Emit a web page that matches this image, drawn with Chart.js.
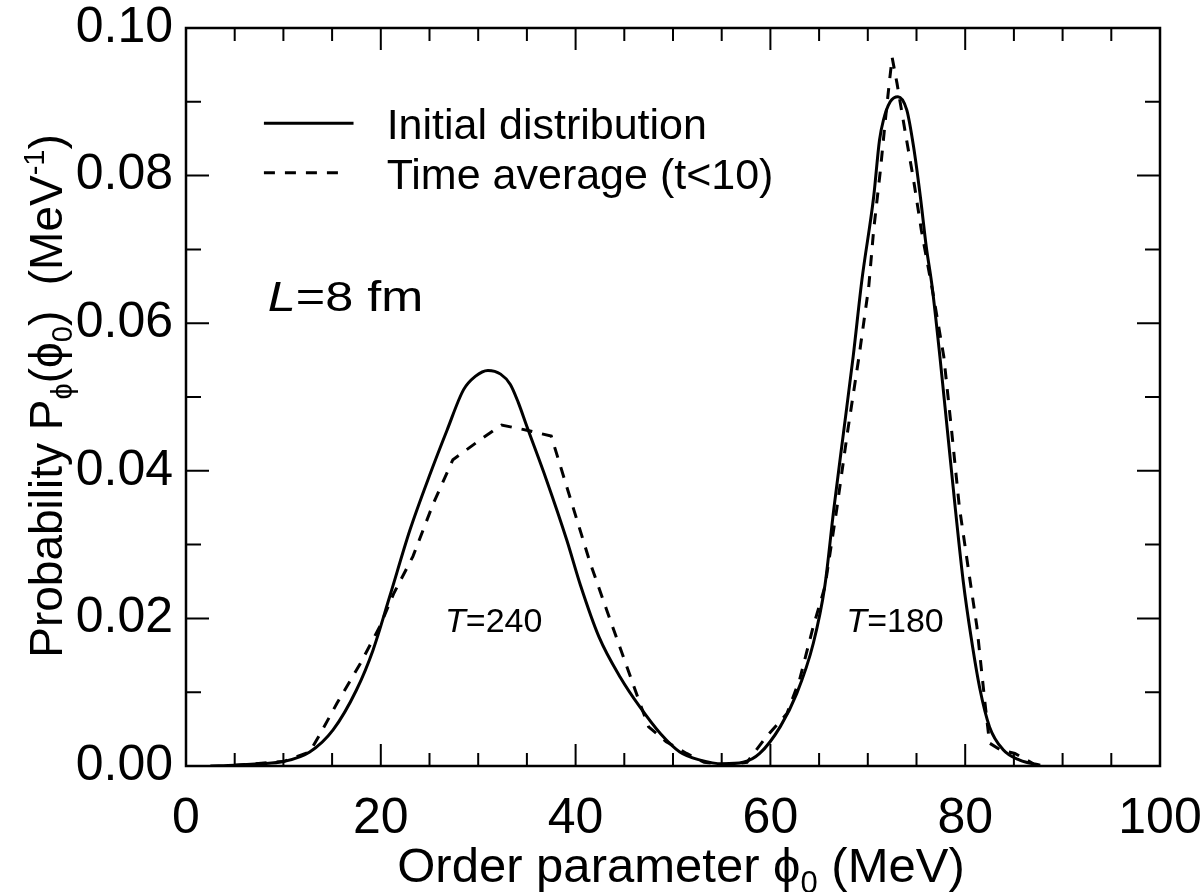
<!DOCTYPE html>
<html>
<head>
<meta charset="utf-8">
<script src="https://cdn.jsdelivr.net/npm/chart.js@4.4.1/dist/chart.umd.min.js"></script>
<style>
  html, body { margin: 0; padding: 0; background: #fff; }
</style>
</head>
<body>
<canvas id="chart" width="1204" height="892"></canvas>
<script>
// ==================== DATA ====================
// initial distribution (solid)
const phiInitial = [2.5, 5, 7.5, 10, 12.7, 15.1, 17.5, 19.2, 20.9, 23.0, 25.1, 26.8, 28.5, 29.7, 31.0,
  32.3, 33.3, 34.1, 35.0, 37.0, 39.1, 40.5, 42.4, 44.6, 46.6, 48.7, 50.7, 52.8, 55.1, 57.2, 58.9,
  61.0, 62.7, 64.4, 65.6, 66.5, 67.5, 68.5, 69.4, 70.6, 71.2, 71.6, 72.3, 73.1, 74.0, 74.7,
  75.4, 76.0, 76.6, 77.4, 78.2, 79.0, 79.8, 80.6, 81.5, 82.5, 83.9, 85.6, 87.7];
const probInitial = [0.0000, 0.0001, 0.0003, 0.0006, 0.0019, 0.0049, 0.0103, 0.0157, 0.0229, 0.0320, 0.0397, 0.0455, 0.0510, 0.0528, 0.0536,
  0.0531, 0.0517, 0.0493, 0.0460, 0.0388, 0.0306, 0.0245, 0.0175, 0.0120, 0.0080, 0.0044, 0.0019, 0.0008, 0.0003, 0.0005, 0.0017,
  0.0053, 0.0098, 0.0166, 0.0245, 0.0347, 0.0451, 0.0555, 0.0659, 0.0771, 0.0848, 0.0875, 0.0900, 0.0907, 0.0889, 0.0839,
  0.0771, 0.0704, 0.0650, 0.0555, 0.0451, 0.0347, 0.0250, 0.0175, 0.0105, 0.0053, 0.0022, 0.0008, 0.0001];

// time average t<10 (dashed)
const phiAverage = [5, 10, 12.7, 13.8, 15.5, 17.9, 19.9, 21.3, 23.3, 25.4, 27.4, 30.2, 32.4, 35.0, 37.5,
  39.1, 41.5, 43.2, 44.9, 46.6, 47.5, 49.3, 51.4, 53.2, 55.5, 57.6, 59.6, 61.7, 63.0, 64.4,
  65.6, 66.8, 67.9, 69.1, 70.1, 70.6, 71.3, 71.8, 72.2, 72.5, 73.0, 73.8, 74.7, 75.5, 76.0,
  76.7, 77.8, 78.6, 79.4, 80.4, 81.2, 82.0, 82.5, 83.6, 85.1, 87.0];
const probAverage = [0.0001, 0.0006, 0.0019, 0.0044, 0.0085, 0.0139, 0.0189, 0.0233, 0.0284, 0.0356, 0.0415, 0.0442, 0.0462, 0.0455, 0.0447,
  0.0378, 0.0275, 0.0211, 0.0148, 0.0085, 0.0053, 0.0033, 0.0017, 0.0005, 0.0002, 0.0005, 0.0040, 0.0071, 0.0117, 0.0189,
  0.0243, 0.0347, 0.0451, 0.0555, 0.0650, 0.0726, 0.0808, 0.0875, 0.0925, 0.0960, 0.0925, 0.0862, 0.0794, 0.0726, 0.0690,
  0.0640, 0.0555, 0.0455, 0.0351, 0.0260, 0.0189, 0.0089, 0.0031, 0.0022, 0.0017, 0.0003];

const xTickValues = [0, 20, 40, 60, 80, 100];
const yTickValues = [0, 0.02, 0.04, 0.06, 0.08, 0.10];
const xMinorStep = 5;
const yMinorStep = 0.01;

const seriesLabels = ["Initial distribution", "Time average (t<10)"];

// ==================== HELPERS ====================
const FONT = '"Liberation Sans", Arial, Helvetica, sans-serif';
const PHI = "\u03D5";

const toPoints = (xs, ys) => xs.map((x, i) => ({ x: x, y: ys[i] }));

// draw text made of pieces, some of them sub/superscript
function drawRich(ctx, segs, x, y, size, align, hScale) {
  const sx = hScale || 1;
  const fontFor = s => (s.italic ? "italic " : "") + Math.round(s.sub || s.sup ? size * 0.64 : size) + "px " + FONT;
  let total = 0;
  segs.forEach(s => { ctx.font = fontFor(s); s.w = ctx.measureText(s.t).width; total += s.w; });
  ctx.save();
  ctx.translate(x, y);
  ctx.scale(sx, 1);
  let cx = align === "center" ? -total / 2 : 0;
  ctx.textAlign = "left";
  ctx.textBaseline = "alphabetic";
  segs.forEach(s => {
    ctx.font = fontFor(s);
    let dy = 0;
    if (s.sub) dy = size * 0.22;
    if (s.sup) dy = -size * 0.4;
    ctx.fillText(s.t, cx, dy);
    cx += s.w;
  });
  ctx.restore();
}

// ==================== FRAME / TICKS / TEXT ====================
const decorPlugin = {
  id: "decor",
  afterDatasetsDraw(chart) {
    const { ctx, chartArea: a, scales: { x, y } } = chart;
    ctx.save();
    ctx.strokeStyle = "#000";
    ctx.fillStyle = "#000";

    // inward ticks on all four sides
    ctx.lineWidth = 2;
    ctx.beginPath();
    for (let v = x.min; v <= x.max + 1e-9; v += xMinorStep) {
      const px = x.getPixelForValue(v);
      const len = xTickValues.includes(v) ? 22 : 13;
      ctx.moveTo(px, a.bottom); ctx.lineTo(px, a.bottom - len);
      ctx.moveTo(px, a.top); ctx.lineTo(px, a.top + len);
    }
    for (let i = 0; i <= Math.round((y.max - y.min) / yMinorStep); i++) {
      const py = y.getPixelForValue(y.min + i * yMinorStep);
      const len = i % 2 === 0 ? 23 : 15;
      ctx.moveTo(a.left, py); ctx.lineTo(a.left + len, py);
      ctx.moveTo(a.right, py); ctx.lineTo(a.right - len, py);
    }
    ctx.stroke();

    // frame
    ctx.lineWidth = 2.5;
    ctx.strokeRect(a.left, a.top, a.right - a.left, a.bottom - a.top);

    // legend (inside plot)
    const legendRows = [0.0871, 0.0804];
    const legendEnds = [17.2, 16.1];
    chart.data.datasets.forEach((ds, i) => {
      const ly = y.getPixelForValue(legendRows[i]);
      ctx.lineWidth = ds.borderWidth;
      ctx.setLineDash(ds.borderDash || []);
      ctx.beginPath();
      ctx.moveTo(x.getPixelForValue(8.0), ly);
      ctx.lineTo(x.getPixelForValue(legendEnds[i]), ly);
      ctx.stroke();
      ctx.setLineDash([]);
      drawRich(ctx, [{ t: ds.label }], x.getPixelForValue(20.6), ly + 16, 43, "left");
    });

    // annotations
    drawRich(ctx, [{ t: "L", italic: true }, { t: "=8 fm" }], x.getPixelForValue(8.4), y.getPixelForValue(0.0616), 42, "left", 1.2);
    drawRich(ctx, [{ t: "T", italic: true }, { t: "=240" }], x.getPixelForValue(26.6), y.getPixelForValue(0.0182), 34, "left");
    drawRich(ctx, [{ t: "T", italic: true }, { t: "=180" }], x.getPixelForValue(67.8), y.getPixelForValue(0.0182), 34, "left");

    // axis titles
    drawRich(ctx, [{ t: "Order parameter " }, { t: PHI }, { t: "0", sub: true }, { t: " (MeV)" }],
      (a.left + a.right) / 2 + 8, 882, 49, "center");

    ctx.translate(62, 396);
    ctx.rotate(-Math.PI / 2);
    drawRich(ctx, [{ t: "Probability P" }, { t: PHI, sub: true }, { t: "(" + PHI }, { t: "0", sub: true },
      { t: ")  (MeV" }, { t: "-1", sup: true }, { t: ")" }], 0, 0, 46, "center");
    ctx.restore();
  }
};

// ==================== CHART ====================
const ctx = document.getElementById("chart").getContext("2d");
new Chart(ctx, {
  type: "line",
  data: {
    datasets: [
      {
        label: seriesLabels[0],
        data: toPoints(phiInitial, probInitial),
        borderColor: "#000",
        borderWidth: 3,
        pointRadius: 0,
        cubicInterpolationMode: "monotone",
        fill: false
      },
      {
        label: seriesLabels[1],
        data: toPoints(phiAverage, probAverage),
        borderColor: "#000",
        borderWidth: 3,
        borderDash: [11, 10],
        pointRadius: 0,
        tension: 0,
        fill: false
      }
    ]
  },
  options: {
    responsive: false,
    animation: false,
    layout: { padding: { top: 28, right: 44, left: 0, bottom: 0 } },
    plugins: {
      legend: { display: false },
      tooltip: { enabled: false }
    },
    scales: {
      x: {
        type: "linear",
        min: 0,
        max: 100,
        afterBuildTicks: s => { s.ticks = xTickValues.map(v => ({ value: v })); },
        afterFit: s => { s.height = 126; s.paddingLeft = 0; s.paddingRight = 0; },
        grid: { display: false, drawTicks: false },
        border: { display: false },
        ticks: {
          color: "#000",
          padding: 23,
          maxRotation: 0,
          font: { family: FONT, size: 50 },
          callback: v => String(v)
        }
      },
      y: {
        type: "linear",
        min: 0,
        max: 0.1,
        afterBuildTicks: s => { s.ticks = yTickValues.map(v => ({ value: v })); },
        afterFit: s => { s.width = 186; s.paddingTop = 0; s.paddingBottom = 0; },
        grid: { display: false, drawTicks: false },
        border: { display: false },
        ticks: {
          color: "#000",
          padding: 13,
          font: { family: FONT, size: 50 },
          callback: v => Number(v).toFixed(2)
        }
      }
    }
  },
  plugins: [decorPlugin]
});
</script>
</body>
</html>
